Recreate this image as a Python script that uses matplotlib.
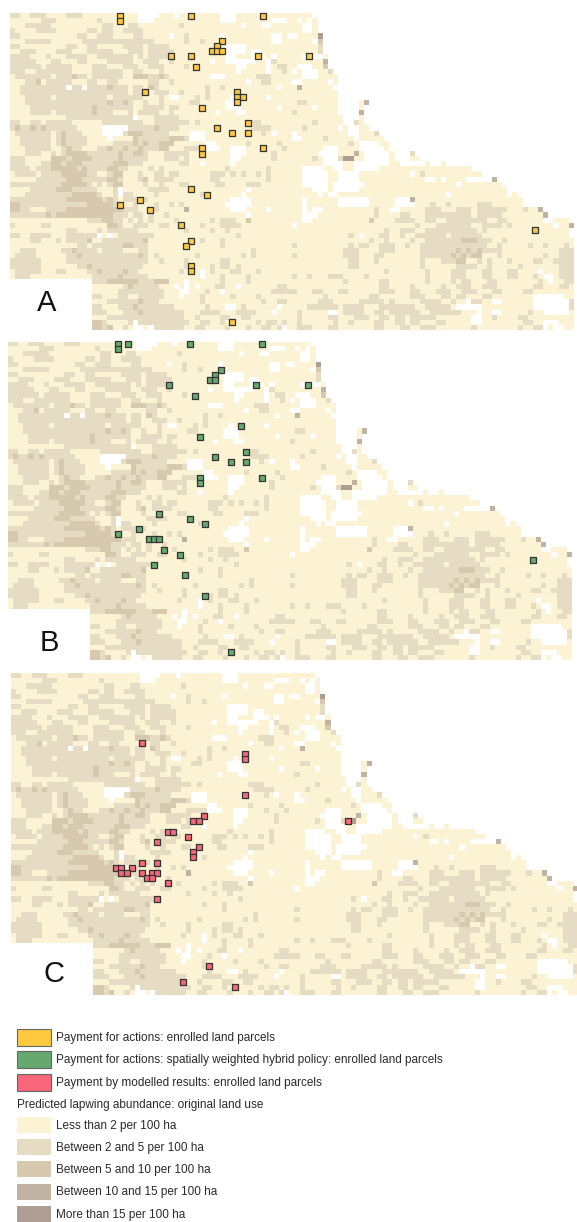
import numpy as np
import matplotlib
matplotlib.use('Agg')
import matplotlib.pyplot as plt
from matplotlib.colors import ListedColormap
from matplotlib.patches import Rectangle

plt.rcParams['font.family'] = ['Liberation Sans', 'DejaVu Sans']

# abundance class per cell, west half then east half ('.' = no data), blocks of ten
west_rows = [
    "1100111000 0111000000 00000....0 00.0000000 0...000000 0000",
    "0000001110 0000000100 00000...00 0000000000 0...000000 0...",
    "0001111100 0000000011 0001100000 0001000000 00000.000. .000",
    "1000011110 0000011011 0011110000 0000000000 0000000000 0000",
    "1100000000 0001100111 0000110000 0.00100000 0.00000000 0..0",
    "0001111100 0000111111 1111111100 0000100100 0000000000 0..0",
    "1100000000 0110011000 0011110111 1000000000 00....0000 0000",
    "0011100001 1100011111 0001110111 1100000000 00....0..0 0000",
    "1111000100 0111100111 1111010111 1100000000 00..000... 0.00",
    "1111100011 0001100001 1111001110 010000000. 00......00 .100",
    "1111110111 1100001110 0011100111 0000100000 0000..0000 .011",
    "1110011111 1100001111 1100110001 0000000000 0000.00000 .001",
    "0111111101 1121101111 1100222112 100000000. ..00000011 1000",
    "0001120111 1100011001 1000000110 0100000000 000000.001 1000",
    "0011111111 1.11.11112 1110110210 0000000010 0100000000 00.0",
    "0011111111 1111111111 1110110011 1001000010 0000000000 0000",
    "0001111101 1111111110 1111110001 0..0001010 000.000000 .000",
    "0001111111 1111111112 1121001001 0000011000 00...00000 0000",
    "0000111111 1111112111 1111001111 0110000000 00...00000 00.0",
    "0000111101 1111112111 0001011110 0100000000 .000..0000 0000",
    "0000000000 0111111111 1111.00011 1110000000 0000000000 0000",
    "1100110111 1100000011 1111110011 1111101000 0000001110 0000",
    "1211212111 11100000.. ...1111121 1110000000 0000000111 1000",
    "0111111101 21110000.. ..12221111 10000...00 0000000001 0.00",
    "0011111101 211110000. 0000211111 12221...00 0000000000 0000",
    "0011111101 2111100000 1111212112 22000000.. 0000001000 0010",
    "0001111100 1211000112 1121121112 20001111.. .00...0001 0001",
    "0001110010 1222211111 1211221000 1111100000 000...0000 0100",
    "1110000022 2122221111 1211111000 1110100000 000..00000 0100",
    "1110001122 1222111111 2221110000 0001100.00 000.000000 0000",
    "1111011122 2221211112 2110000101 0000000000 0010000000 1000",
    "0111101111 2222211001 2200010011 0110000001 1101010010 1000",
    "0000011111 1222111112 2100012011 1100000001 1000000000 1000",
    "1111111111 2222210101 2200001001 0001100000 1100001110 0000",
    "0000111112 2211111000 1.00000111 1000000000 000000.000 0000",
    "0001111111 1122222100 1.11000010 0000000100 00000.0000 0000",
    "1111111111 1222222212 1011111000 0000000000 000....000 0000",
    "2211111111 1111122222 1000100010 0101000000 00.....000 0000",
    "2211000111 1222222222 2211100110 0000300000 000...0000 .000",
    "1111111212 2222222222 1110110100 1000000000 000000.000 0000",
    "0000000000 0000011122 1101010100 0010000001 0111002000 0000",
    "1000001100 0000000002 2100111001 1000000100 0111100000 0000",
    "0000000000 0110000101 1111100000 0000100001 0010000000 0000",
    "1100111100 0111111.0. 0111111100 0000000000 0000100000 0000",
    "0000110001 0111120011 1111112000 0000000100 0100000000 0000",
    "0000000000 0001101111 1122111000 0000000000 0100000000 0000",
    "0011100000 1121111011 1100011000 0000000000 0000000100 0000",
    "0111100000 0112111111 1111121010 0000001000 0000010100 0000",
    "1111110000 0111111111 1111111001 0000100000 0110000000 0000",
    "1111110000 0001121111 1111110000 0000100001 0110100000 0000",
    "0111110001 1000011211 1121100000 0001000.01 0001100010 0000",
    "0111000000 0000001111 1211111000 0000000.00 0100001000 0000",
    ".......... ......1112 2222211122 2000.00000 0100001000 0000",
    ".......... ......0000 0012111110 00.0.0.000 1100.00000 0011",
    ".......... ......0000 0111111111 000..00010 0.00000000 0111",
    ".......... ......1100 0110011111 000.000100 0001000010 0000",
    ".......... ......0001 1111121110 0000000100 0000000001 0011",
    ".......... ......1100 0111211111 1100000010 00..010000 00.0",
    ".......... ......1110 0011121111 1111000111 1000111100 0.00",
    ".......... ......0001 1111111111 1111001000 0110011000 0000",
    ".......... ......2210 0001.11111 1111100110 0100000010 1101",
    ".......... ......2212 0010..0.11 1111001100 0010001001 101.",
]
east_rows = [
    "00000",
    "00.0.0",
    "000..0",
    "000..0",
    "..00004",
    "00000.2",
    "0000001",
    "0000001",
    "000.0..0",
    "00000003",
    "00...002",
    "0.0...001",
    "000...0000",
    "0..00000.0",
    "003000000",
    "0000000000",
    "0000000000",
    "0011000000 ....03",
    "00000.0000 ....0",
    "0100000000 ....3",
    "0000000000 0...0",
    "0000010000 0..10",
    "0001000000 .0..00",
    "0.00000000 00..0001",
    "0..0000100 000.00000",
    "0000000000 001 0....00",
    "0000000... 0000.....0",
    "000000.... 0003 0.....0...1",
    "0000010... 144 00.....0...00",
    "0000000... .00.......00.....0..0",
    "000....00. .00.....0000 0000000000 0000",
    "000.....00 ....000000 0000.01000 00000000",
    "000.....00 ....000000 0000000..0 .0000.....3",
    "000.....0. .....00000 0000000000 000.00000000",
    "00000...0. ....000000 0000000000 0000000000 000",
    "000000.0.. 0000000000 0000000000 0.00000000 000.0",
    "000.000000 ......0000 0...300000 0000000000 000000",
    "000.000000 ......0000 0....00010 0100000111 000000",
    "000.0..000 0000000100 ..00000111 0001110111 111000100 3",
    "000...0000 0000000100 0011000111 1111110111 1100000000 3",
    "000..00000 0000002000 0111100110 0111111110 0110000000 ..000.",
    "0.00000000 0000000000 0000010001 1111110011 1101000000 00.003",
    "0000000000 0000000001 0011100111 1111111010 0000000000 00000.",
    "0000000000 0010.00011 0010011111 1011111100 0000000000 00000.",
    "0000000000 0000001001 0000100111 1111222111 0010000000 000000",
    "0100000000 0010110011 1001001111 1111111110 0100000100 100010",
    "0000000000 0111000011 1000001111 1112121211 1100000000 000111",
    "0100000000 0111000110 0000001111 1121212200 0100000000 100111",
    "0000000000 0011000100 0000001000 1112200101 0001000011 001111",
    "0000000000 0011000000 0000001000 0001111001 0000010000 000111",
    "0000000000 0000000001 0000000100 0011100011 000110000. 000111",
    "0100100011 1000010000 0000000100 0011100011 0001100010 ..0111",
    "0000000000 0100000011 0000000100 0010110001 1000000001 0.0011",
    "0000000000 0000000011 0000100000 1001110011 1000000011 000110",
    "1100011000 1100000011 1000110001 1100111000 1100001100 000000",
    "0000000100 0000001100 0000111000 1101100011 00000000.. ....00",
    "0000001110 0000111110 1000001111 00100.1100 ..000000.. .....1",
    "0000111111 0111100011 1111100111 110.....00 00000000.. .....1",
    "00100000.. 0111100110 1111110011 1111000.00 ..00000100 .....0",
    "0010000011 0001110011 0110111110 000000..00 1000011000 000000",
    "0010000001 0010000110 0110110001 100000..00 0000001100 ...000",
    "0011100011 0000000110 0011001110 0000001000 0000010011 .0..00",
]
class_colors = ['#ffffff', '#fcf2d4', '#e6dbc3', '#d6c9ae', '#c0b3a3', '#ad9d92']
class_codes = '.01234'

# enrolled parcels: column and row of each grid cell
a_cols = [21, 21, 35, 49, 41, 40, 39, 40, 41, 31, 35, 48, 36, 58, 26, 44, 44, 45, 44, 37, 46, 40, 43, 46, 37, 37, 49, 35, 38, 25, 21, 27, 33, 35, 34, 35, 35, 43, 102]
a_rows = [0, 1, 0, 0, 5, 6, 7, 7, 7, 8, 8, 8, 10, 8, 15, 15, 16, 16, 17, 18, 21, 22, 23, 23, 26, 27, 26, 34, 35, 36, 37, 38, 41, 44, 45, 49, 50, 60, 42]
b_cols = [21, 21, 23, 35, 49, 41, 40, 39, 40, 31, 48, 36, 58, 45, 37, 46, 40, 43, 46, 37, 37, 49, 29, 35, 38, 25, 21, 27, 28, 29, 30, 33, 28, 34, 38, 43, 102]
b_rows = [0, 1, 0, 0, 0, 5, 6, 7, 7, 8, 8, 10, 8, 16, 18, 21, 22, 23, 23, 26, 27, 26, 33, 34, 35, 36, 37, 38, 38, 38, 40, 41, 43, 45, 49, 60, 42]
c_cols = [25, 45, 45, 45, 37, 35, 36, 30, 31, 34, 28, 36, 35, 35, 25, 28, 20, 21, 23, 21, 22, 25, 27, 28, 26, 27, 30, 28, 38, 33, 43, 65]
c_rows = [13, 15, 16, 23, 27, 28, 28, 30, 30, 31, 32, 33, 34, 35, 36, 36, 37, 37, 37, 38, 38, 38, 38, 38, 39, 39, 40, 43, 56, 59, 60, 28]

panel_labels = ['A', 'B', 'C']
parcel_colors = ['#fdc93f', '#66a86f', '#f8677a']

legend_parcels = ['Payment for actions: enrolled land parcels',
                  'Payment for actions: spatially weighted hybrid policy: enrolled land parcels',
                  'Payment by modelled results: enrolled land parcels']
legend_title = 'Predicted lapwing abundance: original land use'
legend_classes = ['Less than 2 per 100 ha', 'Between 2 and 5 per 100 ha', 'Between 5 and 10 per 100 ha',
                  'Between 10 and 15 per 100 ha', 'More than 15 per 100 ha']

W, H = 577, 1222
NCOLS, NROWS = 110, 62


def build_grid():
    grid = np.zeros((NROWS, NCOLS), dtype=int)
    for r in range(NROWS):
        row = west_rows[r].replace(' ', '').ljust(54, '0')[:54]
        row += east_rows[r].replace(' ', '').ljust(56, '.')[:56]
        grid[r] = [class_codes.index(ch) for ch in row]
    return grid


def pixel_axes(fig, left, top, width, height):
    return fig.add_axes([left / W, 1 - (top + height) / H, width / W, height / H])


fig = plt.figure(figsize=(W / 100, H / 100), dpi=100)
grid = build_grid()
cmap = ListedColormap(class_colors)

# left, top, width, height of the maps in pixels, and where the letter goes
boxes = [(9.5, 13, 563.5, 317), (8, 341.7, 563.5, 318.3), (10.7, 673.3, 566.3, 321.7)]
letter_xy = [(46.5, 303), (49, 643), (54, 973.5)]
parcels = [(a_cols, a_rows), (b_cols, b_rows), (c_cols, c_rows)]

for i, box in enumerate(boxes):
    ax = pixel_axes(fig, *box)
    ax.imshow(grid, cmap=cmap, vmin=0, vmax=5, extent=(0, NCOLS, NROWS, 0),
              interpolation='nearest', aspect='auto')
    ax.scatter(np.array(parcels[i][0]) + 0.5, np.array(parcels[i][1]) + 0.5, marker='s', s=13,
               c=parcel_colors[i], edgecolors='#333333', linewidths=0.9, zorder=3, clip_on=False)
    ax.set_xlim(0, NCOLS)
    ax.set_ylim(NROWS, 0)
    ax.axis('off')

# overlay in pixel coordinates for letters and legend
over = fig.add_axes([0, 0, 1, 1])
over.set_xlim(0, W)
over.set_ylim(H, 0)
over.axis('off')
over.patch.set_alpha(0)

for lab, (x, y) in zip(panel_labels, letter_xy):
    over.text(x, y, lab, fontsize=21, ha='center', va='center', color='#111111')

txt = '#2a2a2a'
top_y = [1037, 1059.5, 1082]
for y, col, lab in zip(top_y, parcel_colors, legend_parcels):
    over.add_patch(Rectangle((17, y - 8.5), 33.5, 17, facecolor=col, edgecolor='#666666', lw=0.8))
    over.text(56, y + 1, lab, fontsize=8.5, va='center', color=txt)

over.text(17, 1105, legend_title, fontsize=8.5, va='center', color=txt)

class_y = [1124.5, 1147, 1169, 1191.5, 1214]
for y, col, lab in zip(class_y, class_colors[1:], legend_classes):
    over.add_patch(Rectangle((17, y - 8), 33.5, 16, facecolor=col, edgecolor='none'))
    over.text(56, y + 1, lab, fontsize=8.5, va='center', color=txt)

fig.savefig('out.png', dpi=100)
